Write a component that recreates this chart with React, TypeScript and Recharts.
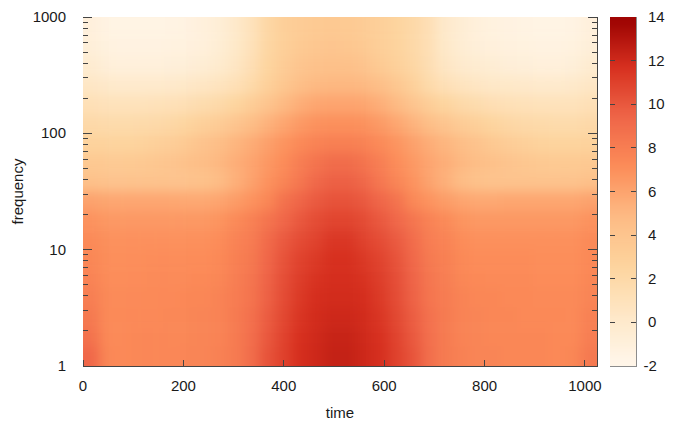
import React from "react";
import { ScatterChart, Scatter, XAxis, YAxis, ReferenceArea, Label } from "recharts";

const timeCenters = [16,48,80,112,144,176,208,240,272,304,336,368,400,432,464,496,528,560,592,624,656,688,720,752,784,816,848,880,912,944,976,1008];
const freqCenters = [825,562,383,261,178,121,82.5,56.2,38.3,26.1,17.8,12.1,8.25,5.62,3.83,2.61,1.78,1.21];

const row00 = [-1,-1.4,-1.5,-1.5,-1.5,-1.4,-1.3,-1.0,-0.6,0.1,1.0,2.2,3.0,3.3,3.5,3.6,3.5,3.3,3.0,2.6,2.1,1.4,0.1,-0.5,-0.9,-1.2,-1.3,-1.4,-1.5,-1.5,-1.4,-1.0];
const row01 = [-0.8,-1.2,-1.3,-1.3,-1.3,-1.2,-1.1,-0.9,-0.5,0.2,1.1,2.3,3.0,3.5,3.8,3.9,3.8,3.5,3.1,2.7,2.1,1.4,0.2,-0.4,-0.8,-1.0,-1.1,-1.2,-1.3,-1.3,-1.2,-0.8];
const row02 = [-0.3,-0.8,-0.9,-0.9,-0.9,-0.8,-0.7,-0.5,-0.1,0.5,1.4,2.5,3.3,3.9,4.2,4.3,4.3,4.0,3.5,2.9,2.3,1.5,0.5,0,-0.3,-0.5,-0.7,-0.8,-0.9,-0.9,-0.8,-0.3];
const row03 = [0.4,0.1,0,0,0,0.1,0.3,0.5,0.8,1.2,1.9,2.9,3.8,4.5,4.9,5.0,5.0,4.9,4.5,3.8,2.9,1.9,1.2,0.8,0.5,0.3,0.2,0.1,0,0,0.1,0.4];
const row04 = [1.2,1.0,1.0,1.0,1.1,1.2,1.4,1.7,2.0,2.5,3.2,4.0,4.9,5.5,5.9,6.0,6.0,5.9,5.5,4.9,4.0,3.2,2.5,2.0,1.7,1.4,1.2,1.1,1.0,1.0,1.0,1.2];
const row05 = [2.0,1.8,1.8,1.9,2.0,2.2,2.5,2.9,3.3,3.9,4.6,5.3,5.9,6.5,6.9,7.0,7.0,6.9,6.5,5.9,5.3,4.6,3.9,3.3,2.9,2.5,2.2,2.0,1.9,1.8,1.8,2.0];
const row06 = [2.7,2.6,2.6,2.7,2.9,3.2,3.6,4.1,4.6,5.1,5.6,6.2,6.8,7.3,7.7,7.9,7.9,7.7,7.3,6.8,6.2,5.6,5.1,4.6,4.1,3.6,3.2,2.9,2.7,2.6,2.6,2.7];
const row07 = [3.6,3.5,3.5,3.6,3.8,4.0,4.3,4.6,5.0,5.5,6.0,6.6,7.2,8.0,8.6,9.0,9.0,8.6,8.0,7.2,6.6,6.0,5.5,5.0,4.6,4.3,4.0,3.8,3.6,3.5,3.5,3.6];
const row08 = [4.3,4.1,4.1,4.1,4.1,4.1,4.1,4.2,4.7,5.4,6.1,6.9,7.6,8.4,9.2,9.6,9.6,9.2,8.4,7.6,6.9,6.1,5.4,4.7,4.2,4.1,4.1,4.1,4.1,4.1,4.1,4.3];
const row09 = [6.1,5.9,5.9,5.9,5.9,5.9,5.8,5.8,6.0,6.4,6.9,7.5,8.7,9.4,9.9,10.2,10.2,9.9,9.4,8.7,7.5,6.9,6.4,6.0,5.8,5.8,5.9,5.9,5.9,5.9,5.9,6.1];
const row10 = [6.9,6.6,6.6,6.6,6.6,6.6,6.6,6.6,6.8,7.3,7.8,8.6,9.3,10.0,10.5,10.8,10.8,10.5,10.0,9.3,8.6,7.8,7.3,6.8,6.6,6.6,6.6,6.6,6.6,6.6,6.6,6.9];
const row11 = [7.3,7.0,7.0,7.0,7.0,7.0,7.0,7.0,7.2,7.7,8.1,9.1,9.9,10.5,10.9,11.4,11.4,10.9,10.5,9.9,9.1,8.1,7.7,7.2,7.0,7.0,7.0,7.0,7.0,7.0,7.0,7.3];
const row12 = [7.5,7.1,7.1,7.1,7.2,7.2,7.2,7.2,7.4,7.9,8.3,9.3,10.2,10.9,11.3,11.7,11.7,11.3,10.9,10.2,9.3,8.3,7.9,7.4,7.2,7.2,7.2,7.2,7.1,7.1,7.1,7.4];
const row13 = [7.7,7.2,7.2,7.2,7.3,7.3,7.3,7.4,7.5,8.0,8.5,9.5,10.4,11.1,11.6,11.8,11.8,11.6,11.1,10.4,9.5,8.5,8.0,7.5,7.4,7.3,7.3,7.3,7.2,7.2,7.2,7.5];
const row14 = [8.0,7.3,7.3,7.3,7.4,7.4,7.5,7.5,7.7,8.1,8.6,9.6,10.5,11.3,11.8,11.9,11.9,11.8,11.3,10.5,9.6,8.6,8.1,7.7,7.5,7.5,7.4,7.4,7.3,7.3,7.3,7.6];
const row15 = [8.3,7.3,7.4,7.4,7.4,7.5,7.5,7.6,7.7,8.2,8.8,9.8,10.7,11.5,11.9,12.1,12.1,11.9,11.5,10.7,9.8,8.8,8.2,7.7,7.6,7.5,7.5,7.4,7.4,7.4,7.3,7.8];
const row16 = [8.7,7.4,7.4,7.5,7.5,7.5,7.5,7.6,7.7,8.2,8.9,10.0,10.9,11.7,12.0,12.3,12.3,12.0,11.7,10.9,10.0,8.9,8.2,7.7,7.6,7.5,7.5,7.5,7.5,7.4,7.4,8.0];
const row17 = [9.3,7.5,7.4,7.5,7.5,7.5,7.6,7.6,7.8,8.2,9.0,10.2,11.0,11.8,12.1,12.4,12.4,12.1,11.8,11.0,10.2,9.0,8.2,7.8,7.6,7.6,7.5,7.5,7.5,7.4,7.5,8.3];
const heatRows = [row00,row01,row02,row03,row04,row05,row06,row07,row08,row09,row10,row11,row12,row13,row14,row15,row16,row17];

const timeTicks = [0,200,400,600,800,1000];
const freqMajor = [1,10,100,1000];
const freqTicks = [1,2,3,4,5,6,7,8,9,10,20,30,40,50,60,70,80,90,100,200,300,400,500,600,700,800,900,1000];
const barTicks = [-2,0,2,4,6,8,10,12,14];
const barLevels = [-1.75,-1.25,-0.75,-0.25,0.25,0.75,1.25,1.75,2.25,2.75,3.25,3.75,4.25,4.75,5.25,5.75,6.25,6.75,7.25,7.75,8.25,8.75,9.25,9.75,10.25,10.75,11.25,11.75,12.25,12.75,13.25,13.75];
const palette = [[255,247,236],[254,232,200],[253,212,158],[253,187,132],[252,141,89],[239,101,72],[215,48,31],[153,0,0]];

const colorOf = (v: number) => {
  const p = Math.max(0, Math.min(6.9999, ((v + 2) / 16) * 7));
  const i = Math.floor(p);
  const f = p - i;
  const c = palette[i].map((a, k) => Math.round(a + (palette[i + 1][k] - a) * f));
  return `rgb(${c[0]},${c[1]},${c[2]})`;
};

const heatData = freqCenters.flatMap((f, r) =>
  timeCenters.map((t, c) => ({ t, f, v: heatRows[r][c], r, c }))
);
const barData = barLevels.map((v, i) => ({ x: 0.5, v, i }));

const FONT = "'Liberation Sans', Arial, sans-serif";
const INK = "#444444";
const CELL_W = 514 / 32;
const CELL_H = 349 / 18;
const BAR_H = 349 / 32;

const HeatCell = (p: any) => {
  const { r, c, v } = p.payload;
  const pad = 30;
  const l = p.cx - CELL_W / 2 - (c === 0 ? pad : 0);
  const rr = p.cx + CELL_W / 2 + 0.5 + (c === 31 ? pad : 0);
  const t = p.cy - CELL_H / 2 - (r === 0 ? pad : 0);
  const b = p.cy + CELL_H / 2 + 0.5 + (r === 17 ? pad : 0);
  return <rect x={l} y={t} width={rr - l} height={b - t} fill={colorOf(v)} />;
};

const BarCell = (p: any) => {
  const { i, v } = p.payload;
  const pad = 20;
  const t = p.cy - BAR_H / 2 - (i === 31 ? pad : 0);
  const b = p.cy + BAR_H / 2 + 0.5 + (i === 0 ? pad : 0);
  return <rect x={p.cx - 13} y={t} width={26} height={b - t} fill={colorOf(v)} />;
};

const BottomTick = (p: any) => (
  <g>
    <line x1={p.x} x2={p.x} y1={366} y2={360} stroke={INK} shapeRendering="crispEdges" />
    <text x={p.x} y={391} textAnchor="middle" fontFamily={FONT} fontSize={15} fill="#1a1a1a">{p.payload.value}</text>
  </g>
);
const TopTick = (p: any) => <line x1={p.x} x2={p.x} y1={17} y2={23} stroke={INK} shapeRendering="crispEdges" />;
const LeftTick = (p: any) => {
  const major = freqMajor.includes(p.payload.value);
  return (
    <g>
      <line x1={83} x2={major ? 92 : 88} y1={p.y} y2={p.y} stroke={INK} shapeRendering="crispEdges" />
      {major && <text x={66} y={p.y + 5} textAnchor="end" fontFamily={FONT} fontSize={15} fill="#1a1a1a">{p.payload.value}</text>}
    </g>
  );
};
const RightTick = (p: any) => {
  const major = freqMajor.includes(p.payload.value);
  return <line x1={597} x2={major ? 588 : 592} y1={p.y} y2={p.y} stroke={INK} shapeRendering="crispEdges" />;
};
const BarTick = (p: any) => {
  const v = p.payload.value;
  const inner = v > -2 && v < 14;
  return (
    <g>
      {inner && <line x1={10} x2={15} y1={p.y} y2={p.y} stroke={INK} shapeRendering="crispEdges" />}
      {inner && <line x1={31} x2={36} y1={p.y} y2={p.y} stroke={INK} shapeRendering="crispEdges" />}
      <text x={v < 0 ? 43.5 : 48} y={p.y + 5} fontFamily={FONT} fontSize={15} fill="#1a1a1a">{v}</text>
    </g>
  );
};

export default function App() {
  return (
    <div style={{ position: "absolute", left: 0, top: 0, width: 682, height: 422, background: "#fff" }}>
      <style>{`
        .heat .recharts-scatter { filter: url(#heatBlur); clip-path: url(#heatClip); }
        .cbar .recharts-scatter { filter: url(#barBlur); clip-path: url(#barClip); }
      `}</style>
      <svg width={0} height={0} style={{ position: "absolute" }}>
        <defs>
          <filter id="heatBlur" filterUnits="userSpaceOnUse" x={40} y={-20} width={600} height={430} colorInterpolationFilters="sRGB">
            <feGaussianBlur stdDeviation="6" />
          </filter>
          <clipPath id="heatClip"><rect x={83} y={17} width={514} height={349} /></clipPath>
          <filter id="barBlur" filterUnits="userSpaceOnUse" x={-10} y={-10} width={100} height={430} colorInterpolationFilters="sRGB">
            <feGaussianBlur stdDeviation="0 4" />
          </filter>
          <clipPath id="barClip"><rect x={10} y={17} width={26} height={349} /></clipPath>
        </defs>
      </svg>
      <div className="heat" style={{ position: "absolute", left: 0, top: 0 }}>
        <ScatterChart width={682} height={422} margin={{ left: 0, right: 84, top: 16, bottom: 0 }}>
          <Scatter data={heatData} xAxisId="b" yAxisId="l" shape={HeatCell} isAnimationActive={false} />
          <XAxis xAxisId="b" type="number" dataKey="t" domain={[0, 1024]} ticks={timeTicks} height={56} tick={BottomTick} tickLine={false} axisLine={false} interval={0} allowDataOverflow>
            <Label value="time" position="insideBottom" offset={4} fontFamily={FONT} fontSize={15} fill="#1a1a1a" />
          </XAxis>
          <XAxis xAxisId="t" orientation="top" type="number" domain={[0, 1024]} ticks={timeTicks} height={1} tick={TopTick} tickLine={false} axisLine={false} interval={0} allowDataOverflow />
          <YAxis yAxisId="l" type="number" dataKey="f" scale="log" domain={[1, 1000]} ticks={freqTicks} width={83} tick={LeftTick} tickLine={false} axisLine={false} interval={0} allowDataOverflow>
            <Label value="frequency" angle={-90} position="insideLeft" offset={18} fontFamily={FONT} fontSize={15} fill="#1a1a1a" style={{ textAnchor: "middle" }} />
          </YAxis>
          <YAxis yAxisId="r" orientation="right" type="number" scale="log" domain={[1, 1000]} ticks={freqTicks} width={1} tick={RightTick} tickLine={false} axisLine={false} interval={0} allowDataOverflow />
          <ReferenceArea xAxisId="b" yAxisId="l" x1={0} x2={1024} y1={1} y2={1000} fill="none" stroke={INK} shapeRendering="crispEdges" />
        </ScatterChart>
      </div>
      <div className="cbar" style={{ position: "absolute", left: 600, top: 0 }}>
        <ScatterChart width={82} height={422} margin={{ left: 10, right: 45, top: 17, bottom: 56 }}>
          <Scatter data={barData} shape={BarCell} isAnimationActive={false} />
          <XAxis type="number" dataKey="x" domain={[0, 1]} hide />
          <YAxis type="number" dataKey="v" orientation="right" domain={[-2, 14]} ticks={barTicks} width={1} tick={BarTick} tickLine={false} axisLine={false} interval={0} allowDataOverflow />
          <ReferenceArea x1={0} x2={1} y1={-2} y2={14} fill="none" stroke="#8c8c8c" shapeRendering="crispEdges" />
        </ScatterChart>
      </div>
    </div>
  );
}
